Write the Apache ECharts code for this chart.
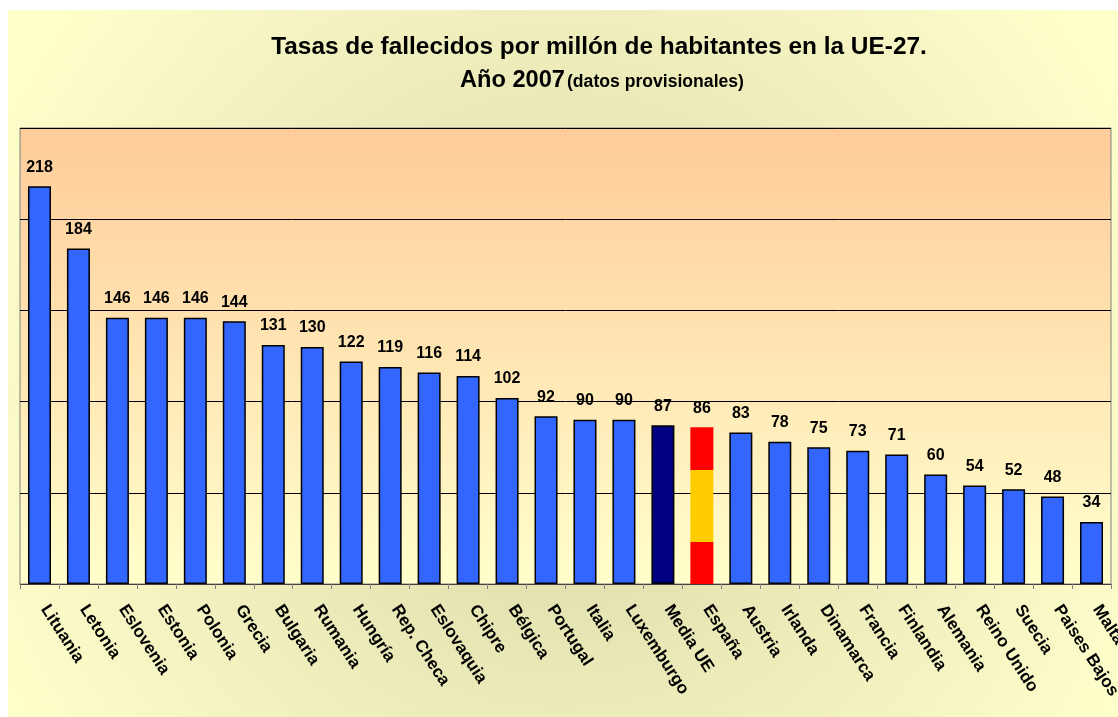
<!DOCTYPE html>
<html>
<head>
<meta charset="utf-8">
<style>
  html, body { margin: 0; padding: 0; background: #fff; }
  #chart { width: 1118px; height: 717px; }
</style>
<script src="https://cdn.jsdelivr.net/npm/echarts@6/dist/echarts.min.js"></script>
</head>
<body>
<div id="chart"></div>
<script>
var FONT = '"Liberation Sans", Arial, sans-serif';

// datos
var paises = ['Lituania', 'Letonia', 'Eslovenia', 'Estonia', 'Polonia', 'Grecia', 'Bulgaria',
  'Rumania', 'Hungría', 'Rep. Checa', 'Eslovaquia', 'Chipre', 'Bélgica', 'Portugal', 'Italia',
  'Luxemburgo', 'Media UE', 'España', 'Austria', 'Irlanda', 'Dinamarca', 'Francia', 'Finlandia',
  'Alemania', 'Reino Unido', 'Suecia', 'Paises Bajos', 'Malta']
var tasas = [218, 184, 146, 146, 146, 144, 131, 130, 122, 119, 116, 114, 102, 92, 90, 90,
  87, 86, 83, 78, 75, 73, 71, 60, 54, 52, 48, 34]
var yTicks = [0, 50, 100, 150, 200, 250]

var tituloLinea1 = 'Tasas de fallecidos por millón de habitantes en la UE-27.'
var tituloAnio = 'Año 2007'
var tituloNota = '(datos provisionales)'

// colores de barras
var azul = '#3366FF'
var media = '#000080'
// bandera: rojo / amarillo / rojo
var bandera = {
  type: 'linear', x: 0, y: 0, x2: 0, y2: 1,
  colorStops: [
    { offset: 0, color: '#FF0000' },
    { offset: 0.274, color: '#FF0000' },
    { offset: 0.274, color: '#FFCC00' },
    { offset: 0.732, color: '#FFCC00' },
    { offset: 0.732, color: '#FF0000' },
    { offset: 1, color: '#FF0000' }
  ]
}

var barData = tasas.map(function (v, i) {
  var name = paises[i]
  if (name === 'España') {
    return { value: v, itemStyle: { color: bandera, borderWidth: 0 } }
  }
  if (name === 'Media UE') {
    return { value: v, itemStyle: { color: media } }
  }
  return v
})

var chart = echarts.init(document.getElementById('chart'))

chart.setOption({
  animation: false,
  textStyle: { fontFamily: FONT },
  graphic: [
    { // fondo exterior
      type: 'rect',
      z: -10,
      silent: true,
      shape: { x: 8, y: 10, width: 1110, height: 707 },
      style: {
        fill: {
          type: 'radial', x: 0.5, y: 0.55, r: 0.9,
          colorStops: [
            { offset: 0, color: '#D8D6A6' },
            { offset: 1, color: '#FFFFCC' }
          ]
        }
      }
    },
    {
      type: 'text',
      x: 599, y: 47.5,
      style: {
        text: tituloLinea1,
        font: 'bold 24.4px ' + FONT,
        fill: '#000',
        align: 'center',
        verticalAlign: 'middle'
      }
    },
    {
      type: 'text',
      x: 460, y: 80,
      style: {
        text: tituloAnio,
        font: 'bold 23.6px ' + FONT,
        fill: '#000',
        align: 'left',
        verticalAlign: 'middle'
      }
    },
    {
      type: 'text',
      x: 567, y: 82,
      style: {
        text: tituloNota,
        font: 'bold 17.6px ' + FONT,
        fill: '#000',
        align: 'left',
        verticalAlign: 'middle'
      }
    }
  ],
  grid: {
    show: true,
    left: 20,
    right: 7,
    top: 128,
    bottom: 133,
    containLabel: false,
    outerBoundsMode: 'none',
    borderColor: '#808080',
    borderWidth: 1,
    backgroundColor: {
      type: 'linear', x: 0, y: 0, x2: 0, y2: 1,
      colorStops: [
        { offset: 0, color: '#FFCC99' },
        { offset: 1, color: '#FFFFCC' }
      ]
    }
  },
  xAxis: {
    type: 'category',
    data: paises,
    boundaryGap: true,
    axisLine: { show: true, lineStyle: { color: '#404040', width: 1 } },
    axisTick: { show: true, interval: 0, length: 5, lineStyle: { color: '#808080' } },
    axisLabel: {
      interval: 0,
      rotate: -57,
      margin: 15,
      padding: [0, 0, 0, 9],
      hideOverlap: false,
      color: '#000',
      fontWeight: 'bold',
      fontSize: 17,
      fontFamily: FONT
    }
  },
  yAxis: {
    type: 'value',
    min: yTicks[0],
    max: yTicks[yTicks.length - 1],
    interval: 50,
    axisLine: { show: false },
    axisTick: { show: false },
    axisLabel: { show: false },
    splitLine: { show: true, lineStyle: { color: '#000', width: 1 } }
  },
  series: [
    {
      type: 'bar',
      data: barData,
      barWidth: 23,
      itemStyle: {
        color: azul,
        borderColor: '#000',
        borderWidth: 1.5
      },
      label: {
        show: true,
        position: 'top',
        distance: 11,
        color: '#000',
        fontWeight: 'bold',
        fontSize: 16,
        fontFamily: FONT
      }
    }
  ]
})
</script>
</body>
</html>
